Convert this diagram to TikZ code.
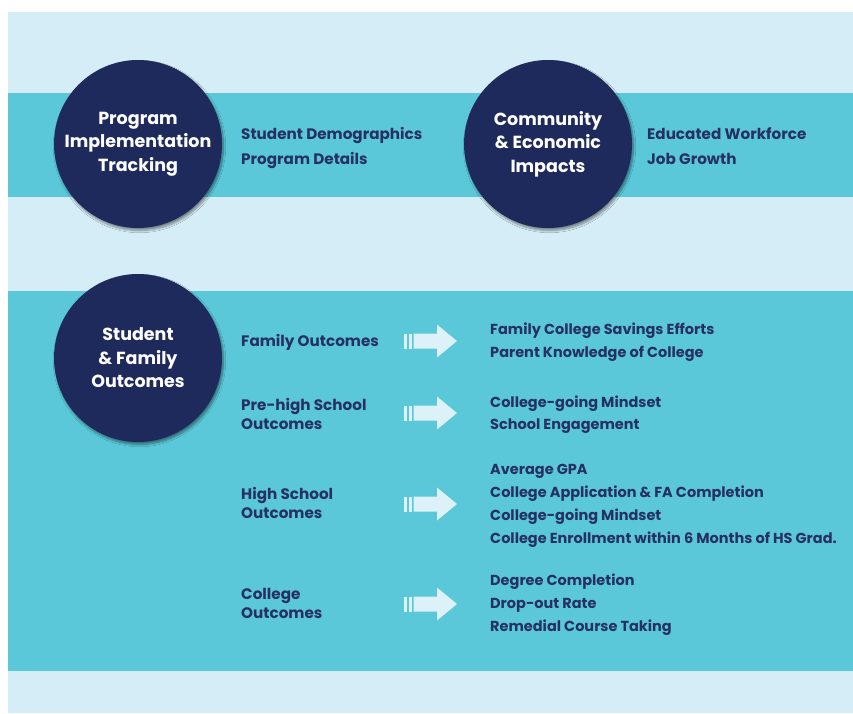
\documentclass[tikz,border=0pt]{standalone}
\usepackage{fontspec}
\setmainfont{Poppins}
\usetikzlibrary{shadows.blur}

\definecolor{panelblue}{HTML}{D5EDF7}
\definecolor{bandteal}{HTML}{5BC8D9}
\definecolor{hubnavy}{HTML}{1F2A5C}
\definecolor{inknavy}{HTML}{263163}
\definecolor{arrowfill}{HTML}{DCF1F8}

\tikzset{
  hub/.style={circle, fill=hubnavy, minimum size=168pt, inner sep=0pt,
    text=white, align=center,
    font=\fontsize{17.5}{23.5}\selectfont\bfseries,
    blur shadow={shadow xshift=1.5pt, shadow yshift=-2.5pt,
      shadow opacity=45, shadow blur steps=8}},
  lbl/.style={anchor=mid west, inner sep=0pt, text=inknavy, yshift=-2.5pt,
    font=\fontsize{15.2}{18}\selectfont\bfseries},
  item/.style={anchor=mid west, inner sep=0pt, text=inknavy, yshift=-2.5pt,
    font=\fontsize{14.5}{18}\selectfont\bfseries},
  pics/flowarrow/.style={code={
    \fill[arrowfill] (0,-7.5) rectangle (3,7.5);
    \fill[arrowfill] (5,-7.5) rectangle (7.5,7.5);
    \fill[arrowfill] (9.5,-7.5) -- (33,-7.5) -- (33,-16.5) -- (53,0)
      -- (33,16.5) -- (33,7.5) -- (9.5,7.5) -- cycle;
  }}
}

\begin{document}
\begin{tikzpicture}[x=1pt, y=-1pt]
  \useasboundingbox (0,0) rectangle (853,713);
  \fill[white] (0,0) rectangle (853,713);

  % background panel and the two teal bands
  \fill[panelblue] (8,12) rectangle (853,713);
  \fill[bandteal] (8,93) rectangle (853,197);
  \fill[bandteal] (8,291) rectangle (853,671);

  % top band
  \node[hub] (pit) at (138,144) {Program\\Implementation\\Tracking};
  \node[lbl] (sd) at (241,134) {Student Demographics};
  \node[lbl] (pd) at (241,159) {Program Details};

  \node[hub] (cei) at (548,144) {Community\\\& Economic\\Impacts};
  \node[lbl] (ew) at (647,134) {Educated Workforce};
  \node[lbl] (jg) at (647,159) {Job Growth};

  % lower band
  \node[hub] (sfo) at (138,358) {Student\\\& Family\\Outcomes};

  % family outcomes
  \node[lbl] (fam) at (241,341) {Family Outcomes};
  \pic (famarr) at (404,341) {flowarrow};
  \node[item] (fam1) at (490,329) {Family College Savings Efforts};
  \node[item] (fam2) at (490,352) {Parent Knowledge of College};

  % pre-high school outcomes
  \node[lbl] (phs1) at (241,405) {Pre-high School};
  \node[lbl] (phs2) at (241,424) {Outcomes};
  \pic (phsarr) at (404,413) {flowarrow};
  \node[item] (phi1) at (490,402) {College-going Mindset};
  \node[item] (phi2) at (490,424) {School Engagement};

  % high school outcomes
  \node[lbl] (hs1) at (241,494) {High School};
  \node[lbl] (hs2) at (241,513) {Outcomes};
  \pic (hsarr) at (404,504) {flowarrow};
  \node[item] (hsi1) at (490,469) {Average GPA};
  \node[item] (hsi2) at (490,492) {College Application \& FA Completion};
  \node[item] (hsi3) at (490,515) {College-going Mindset};
  \node[item] (hsi4) at (490,538) {College Enrollment within 6 Months of HS Grad.};

  % college outcomes
  \node[lbl] (co1) at (241,594) {College};
  \node[lbl] (co2) at (241,613) {Outcomes};
  \pic (coarr) at (404,604) {flowarrow};
  \node[item] (coi1) at (490,580) {Degree Completion};
  \node[item] (coi2) at (490,603) {Drop-out Rate};
  \node[item] (coi3) at (490,626) {Remedial Course Taking};
\end{tikzpicture}
\end{document}
